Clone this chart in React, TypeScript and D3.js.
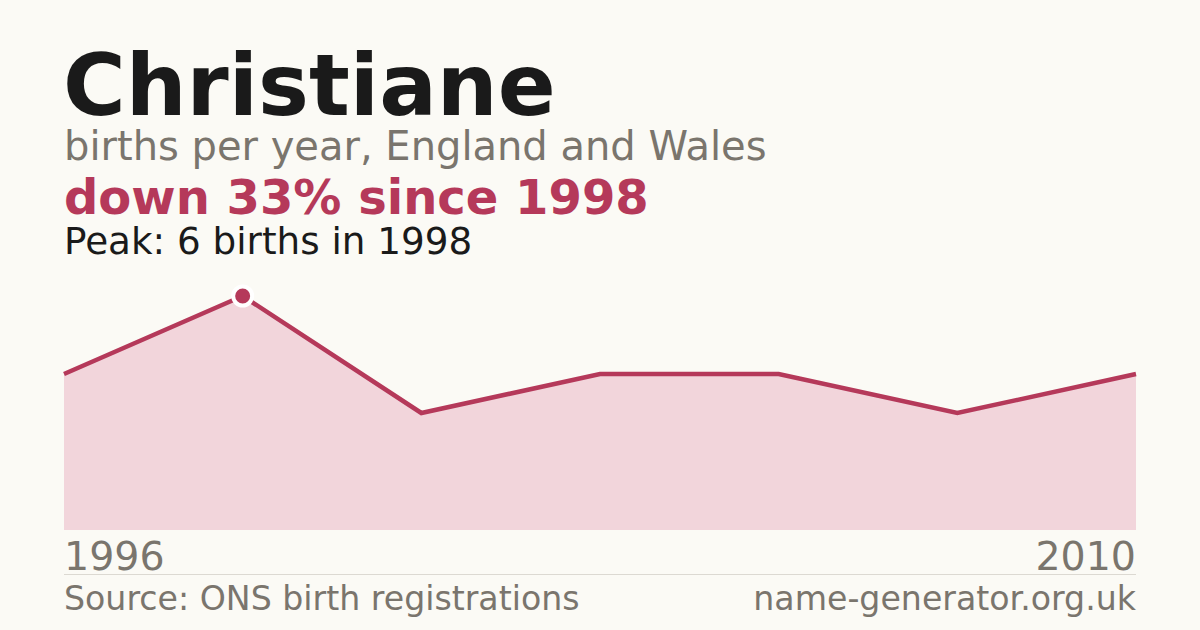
import React, { useRef, useEffect } from 'react';
import * as d3 from 'd3';

// Data
const years = [1996, 1998, 2000, 2003, 2005, 2008, 2010];
const births = [4, 6, 3, 4, 4, 3, 4];
const name = 'Christiane';
const subtitle = 'births per year, England and Wales';
const headline = 'down 33% since 1998';
const peakNote = 'Peak: 6 births in 1998';
const sourceNote = 'Source: ONS birth registrations';
const siteNote = 'name-generator.org.uk';

const W = 1200;
const H = 630;
const FONT = '"DejaVu Sans", sans-serif';
const CRIMSON = '#b5395a';
const GREY = '#7a756d';

const App = () => {
  const svgRef = useRef<SVGSVGElement | null>(null);

  useEffect(() => {
    document.body.style.margin = '0';
    const svg = d3.select(svgRef.current);
    svg.selectAll('*').remove();

    svg.append('rect').attr('width', W).attr('height', H).attr('fill', '#fbfaf5');

    // Header texts
    const text = (x: number, y: number, s: string, size: number, color: string, weight = 'normal', anchor = 'start') =>
      svg.append('text')
        .attr('x', x).attr('y', y)
        .attr('font-family', FONT)
        .attr('font-size', size)
        .attr('font-weight', weight)
        .attr('fill', color)
        .attr('text-anchor', anchor)
        .text(s);

    text(63, 115, name, 85.5, '#1a1a1a', 'bold');
    text(64, 160, subtitle, 40, GREY);
    text(64, 214, headline, 48, CRIMSON, 'bold');
    text(64, 254, peakNote, 37.3, '#1a1a1a');

    // Scales
    const x = d3.scalePoint<number>().domain(years).range([64, 1136]);
    const y = d3.scaleLinear().domain([0, 6]).range([530, 296]);

    const area = d3.area<number>()
      .x((d, i) => x(years[i]) as number)
      .y0(y(0))
      .y1(d => y(d));

    const line = d3.line<number>()
      .x((d, i) => x(years[i]) as number)
      .y(d => y(d));

    svg.append('path')
      .datum(births)
      .attr('d', area)
      .attr('fill', '#f2d5db');

    svg.append('path')
      .datum(births)
      .attr('d', line)
      .attr('fill', 'none')
      .attr('stroke', CRIMSON)
      .attr('stroke-width', 4.5)
      .attr('stroke-linejoin', 'miter');

    // Peak marker
    const peakIdx = births.indexOf(d3.max(births) as number);
    svg.append('circle')
      .attr('cx', x(years[peakIdx]) as number)
      .attr('cy', y(births[peakIdx]))
      .attr('r', 9.5)
      .attr('fill', CRIMSON)
      .attr('stroke', '#ffffff')
      .attr('stroke-width', 4);

    // Axis labels
    text(64, 570, String(years[0]), 39.5, GREY);
    text(1136, 570, String(years[years.length - 1]), 39.5, GREY, 'normal', 'end');

    svg.append('line')
      .attr('x1', 64).attr('x2', 1136)
      .attr('y1', 574.5).attr('y2', 574.5)
      .attr('stroke', '#dcd9d2')
      .attr('stroke-width', 1);

    text(64, 610, sourceNote, 33.2, GREY);
    text(1136, 610, siteNote, 33.2, GREY, 'normal', 'end');
  }, []);

  return <svg ref={svgRef} width={W} height={H} style={{ display: 'block' }} />;
};

export default App;
